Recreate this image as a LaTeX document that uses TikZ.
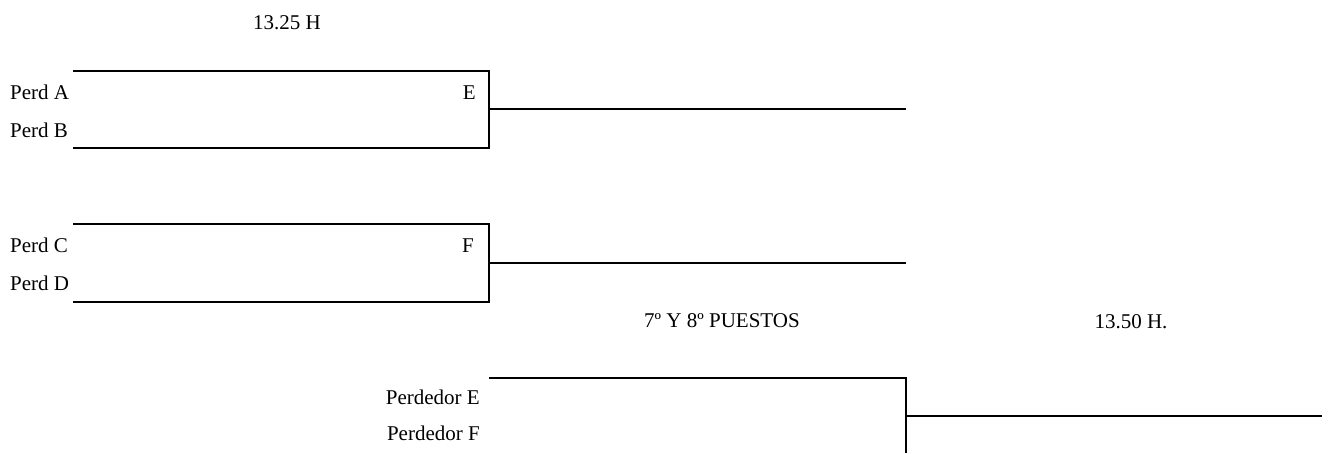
\documentclass[tikz,border=0pt]{standalone}
\usepackage{fontspec}
\setmainfont{Liberation Serif}

\begin{document}
\begin{tikzpicture}[
    x=1pt,y=-1pt,
    font=\fontsize{21}{25}\selectfont,
    team/.style={anchor=base west,inner sep=0pt},
    loser/.style={anchor=base east,inner sep=0pt},
    match/.style={anchor=base east,inner sep=0pt},
    hora/.style={anchor=base,inner sep=0pt},
    bracket/.style={line width=2pt}
    ]
    \useasboundingbox (0,0) rectangle (1332,453);
    % horarios
    \node (h1) [hora] at (287,29) {13.25 H};
    \node (tit) [hora] at (722,327) {7º Y 8º PUESTOS};
    \node (h2) [hora] at (1131,328) {13.50 H.};
    % partido E
    \node (pa) [team] at (10,99) {Perd A};
    \node (pb) [team] at (10,137) {Perd B};
    \node (me) [match] at (476,99) {E};
    \coordinate (ea) at (73,71);
    \coordinate (eb) at (73,148);
    \coordinate (ej) at (489,109);
    \coordinate (eo) at (906,109);
    \draw[bracket] (ea) -| (ej) |- (eb);
    \draw[bracket] (ej) -- (eo);
    % partido F
    \node (pc) [team] at (10,252) {Perd C};
    \node (pd) [team] at (10,290) {Perd D};
    \node (mf) [match] at (474,252) {F};
    \coordinate (fa) at (73,224);
    \coordinate (fb) at (73,302);
    \coordinate (fj) at (489,263);
    \coordinate (fo) at (906,263);
    \draw[bracket] (fa) -| (fj) |- (fb);
    \draw[bracket] (fj) -- (fo);
    % 7 y 8 puestos
    \node (le) [loser] at (480,404) {Perdedor E};
    \node (lf) [loser] at (480,440) {Perdedor F};
    \coordinate (ga) at (489,378);
    \coordinate (gj) at (906,416);
    \coordinate (gb) at (906,453);
    \coordinate (go) at (1322,416);
    \draw[bracket] (ga) -| (gj) -- (gb);
    \draw[bracket] (gj) -- (go);
\end{tikzpicture}
\end{document}
